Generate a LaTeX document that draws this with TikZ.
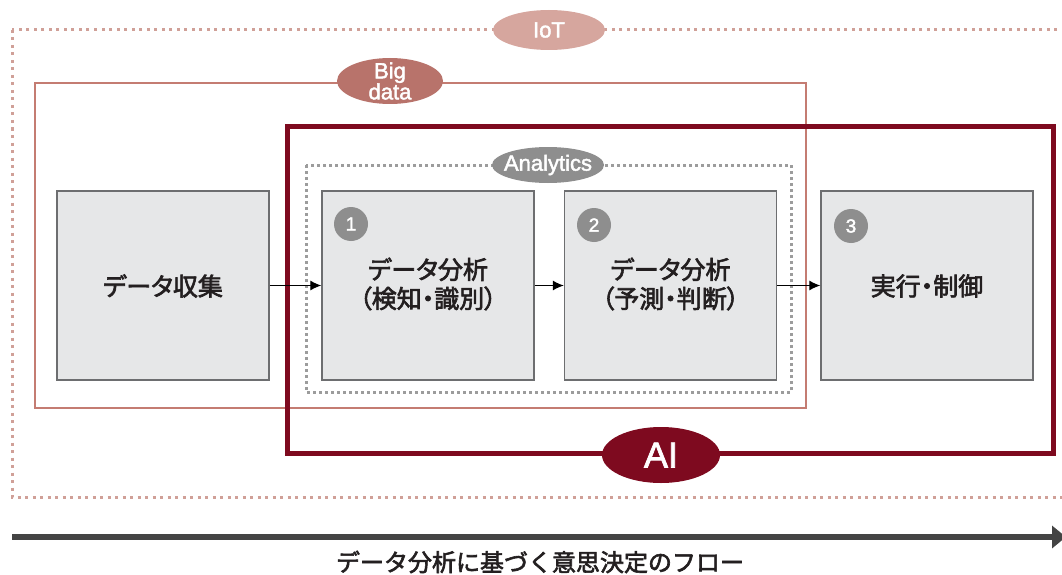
\documentclass[tikz,border=0pt]{standalone}
\usepackage{fontspec}
\setmainfont{Liberation Sans}
\newfontfamily\lab{Liberation Sans}[FakeBold=2]
\newfontfamily\jp{Noto Sans CJK JP}[RawFeature=+palt, FakeBold=2.5]
\newfontfamily\jpw{Noto Sans CJK JP}[FakeBold=2.5]
\usetikzlibrary{shapes.geometric,arrows.meta}
\definecolor{iotc}{HTML}{D6A69E}
\definecolor{iotline}{HTML}{D0A098}
\definecolor{bigc}{HTML}{B8736B}
\definecolor{bigline}{HTML}{C47C72}
\definecolor{aic}{HTML}{7E0A1F}
\definecolor{anc}{HTML}{8E8E8E}
\definecolor{anline}{HTML}{9C9C9C}
\definecolor{boxfill}{HTML}{E6E7E8}
\definecolor{boxline}{HTML}{6D6E70}
\definecolor{txt}{HTML}{231F20}
\definecolor{flowc}{HTML}{444444}
\tikzset{
  stagebox/.style={draw=boxline, line width=1.3pt, fill=boxfill, minimum width=212pt, minimum height=189pt, inner sep=0pt},
  stagetext/.style={text=txt, font=\jp\fontsize{25}{29}\selectfont, align=center, inner sep=0pt},
  numcirc/.style={circle, fill=anc, text=white, minimum size=34pt, inner sep=0pt, font=\lab\fontsize{19}{19}\selectfont},
  tag/.style={ellipse, inner sep=0pt, text=white},
  flowarrow/.style={line width=1.2pt, draw=black, -{Latex[length=11pt,width=10pt]}},
}
\begin{document}
\begin{tikzpicture}[x=1pt,y=-1pt]
\useasboundingbox (0,0) rectangle (1062,575);
% frames
\draw[iotline, line width=3pt, dash pattern=on 3pt off 4.5pt] (12,30) rectangle (1080,497);
\draw[bigline, line width=1.6pt] (35,83) rectangle (806,408);
\draw[aic, line width=5pt] (287,127) rectangle (1053,453);
\draw[anline, line width=3pt, dash pattern=on 3pt off 3pt] (306,165) rectangle (791,392);
% boxes
\node[stagebox] (b0) at (163,285.5) {};
\node[stagebox] (b1) at (428,285.5) {};
\node[stagebox] (b2) at (670.5,285.5) {};
\node[stagebox] (b3) at (927,285.5) {};
\node[stagetext] (t0) at (163,286) {データ収集};
\node[stagetext] (t1) at (428,284) {データ分析\\（検知・識別）};
\node[stagetext] (t2) at (670.5,284) {データ分析\\（予測・判断）};
\node[stagetext] (t3) at (927,286) {実行・制御};
\node[numcirc] (n1) at (351,224) {1};
\node[numcirc] (n2) at (594,225) {2};
\node[numcirc] (n3) at (851,226) {3};
% connectors
\draw[flowarrow] (b0.east) -- (b1.west);
\draw[flowarrow] (b1.east) -- (b2.west);
\draw[flowarrow] (b2.east) -- (b3.west);
% tags
\node[tag, fill=iotc, minimum width=112pt, minimum height=40pt, font=\lab\fontsize{22}{22}\selectfont] (iot) at (549,30) {IoT};
\node[tag, fill=bigc, minimum width=106pt, minimum height=46pt, inner ysep=-9pt, align=center, font=\lab\fontsize{22}{21}\selectfont] (big) at (390,81) {Big\\data};
\node[tag, fill=anc, minimum width=112pt, minimum height=36pt, inner xsep=-6pt, inner ysep=-3pt, font=\lab\fontsize{22}{22}\selectfont] (an) at (548,165) {Analytics};
\node[tag, fill=aic, minimum width=118pt, minimum height=56pt, font=\lab\fontsize{36}{36}\selectfont] (ai) at (661,455) {AI};
% flow arrow
\coordinate (fs) at (12,537);
\coordinate (fe) at (1066,537);
\draw[flowc, line width=6pt, -{Triangle[length=14pt,width=22pt]}] (fs) -- (fe);
\node[text=txt, font=\jpw\fontsize{24}{24}\selectfont, inner sep=0pt] (flow) at (540,562) {データ分析に基づく意思決定のフロー};
\end{tikzpicture}
\end{document}
